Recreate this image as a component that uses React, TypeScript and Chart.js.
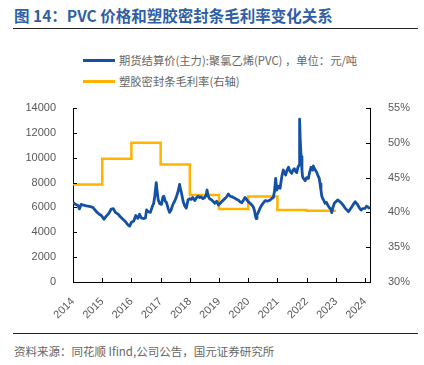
import React, { useEffect, useRef } from "react";
import { Chart, registerables } from "chart.js";

Chart.register(...registerables);

const titleText = "图 14：PVC 价格和塑胶密封条毛利率变化关系";
const sourceText = "资料来源：同花顺 Ifind,公司公告，国元证券研究所";
const pvcLabel = "期货结算价(主力):聚氯乙烯(PVC) ，单位：元/吨";
const marginLabel = "塑胶密封条毛利率(右轴)";

// PVC futures settlement price (yuan/ton), x = fractional year
const pvcDates = [
  2014.0, 2014.08, 2014.17, 2014.22, 2014.28, 2014.36, 2014.46, 2014.56, 2014.68, 2014.8, 2014.9, 2014.97,
  2015.06, 2015.14, 2015.22, 2015.31, 2015.38, 2015.45, 2015.55, 2015.62, 2015.71, 2015.8, 2015.88, 2015.94,
  2016.0, 2016.08, 2016.15, 2016.22, 2016.28, 2016.34, 2016.42, 2016.48, 2016.52, 2016.58, 2016.65, 2016.72,
  2016.76, 2016.8, 2016.85, 2016.88, 2016.92, 2016.97, 2017.03, 2017.08, 2017.11, 2017.16, 2017.2, 2017.26,
  2017.31, 2017.36, 2017.42, 2017.48, 2017.54, 2017.6, 2017.65, 2017.68, 2017.72, 2017.77, 2017.83, 2017.88,
  2017.94, 2018.0, 2018.05, 2018.1, 2018.17, 2018.22, 2018.28, 2018.34, 2018.39, 2018.45, 2018.51, 2018.56,
  2018.59, 2018.63, 2018.68, 2018.75, 2018.86, 2018.92, 2018.98, 2019.05, 2019.09, 2019.15, 2019.21, 2019.26,
  2019.32, 2019.38, 2019.43, 2019.49, 2019.55, 2019.6, 2019.66, 2019.72, 2019.78, 2019.84, 2019.89, 2019.94,
  2020.0, 2020.06, 2020.12, 2020.17, 2020.21, 2020.25, 2020.27, 2020.3, 2020.33, 2020.38, 2020.44, 2020.5,
  2020.58, 2020.66, 2020.75, 2020.8, 2020.86, 2020.9, 2020.94, 2020.98, 2021.04, 2021.09, 2021.15, 2021.2,
  2021.24, 2021.28, 2021.33, 2021.38, 2021.43, 2021.49, 2021.53, 2021.58, 2021.62, 2021.66, 2021.7, 2021.74,
  2021.76, 2021.78, 2021.81, 2021.84, 2021.86, 2021.9, 2021.95, 2022.0, 2022.06, 2022.1, 2022.15, 2022.2,
  2022.23, 2022.27, 2022.31, 2022.35, 2022.38, 2022.43, 2022.46, 2022.49, 2022.52, 2022.55, 2022.6, 2022.63,
  2022.68, 2022.72, 2022.76, 2022.8, 2022.84, 2022.86, 2022.9, 2022.95, 2023.0, 2023.06, 2023.12, 2023.2,
  2023.26, 2023.32, 2023.38, 2023.43, 2023.49, 2023.55, 2023.6, 2023.66, 2023.7, 2023.75, 2023.8, 2023.86,
  2023.92, 2024.0, 2024.05, 2024.11, 2024.17,
];
const pvcValues = [
  6400, 6250, 6150, 5880, 6250, 6180, 6120, 6080, 6010, 5660, 5450, 5350,
  5050, 5300, 5500, 5870, 5900, 5600, 5450, 5250, 5050, 4850, 4600, 4500,
  4800, 4900, 5350, 5120, 5450, 5150, 5100, 5150, 5800, 5650, 5600, 6100,
  6300, 6900, 8000, 7300, 6600, 6300, 6250, 6850, 6900, 6500, 6400, 5900,
  5600, 5800, 6250, 6500, 6850, 7300, 7850, 7500, 7100, 6500, 6100, 5950,
  6600, 6700, 6650, 6800, 6550, 6750, 6900, 6800, 6850, 6700, 6800, 7000,
  7400, 6900, 6700, 6600, 6330, 6500, 6200, 6350, 6460, 6600, 6730, 6850,
  7080, 6900, 6870, 6800, 6730, 6650, 6600, 6450, 6380, 6600, 6810, 6650,
  6460, 6350, 6200, 6050, 5790, 5300, 5100, 5400, 5520, 5800, 6110, 6300,
  6540, 6500, 6600, 6700, 6810, 7300, 8340, 7400, 7700, 7540, 8480, 9010,
  8800, 8610, 9000, 9230, 8900, 8740, 9000, 9120, 8900, 8800, 9200, 9410,
  13100, 11500, 10080, 9000, 8480, 8300, 8150, 8400, 8340, 8800, 9230, 9000,
  9330, 9100, 8960, 8800, 8610, 8340, 7900, 7400, 6900, 6730, 6500, 6330,
  6400, 6200, 6050, 5930, 5800, 5580, 6000, 6330, 6450, 6600, 6500, 6330,
  6150, 5930, 5800, 5660, 5850, 6060, 6250, 6460, 6350, 6200, 6000, 5790,
  5900, 5930, 6100, 6010, 5900,
];

// Gross margin of plastic sealing strips (%), annual, right axis
const marginYears = [2014, 2015, 2016, 2017, 2018, 2019, 2020, 2021, 2022, 2023];
const marginValues = [44.0, 47.7, 50.0, 46.9, 42.5, 40.5, 42.3, 40.35, 40.25, 40.25];

const xTickLabels = ["2014", "2015", "2016", "2017", "2018", "2019", "2020", "2021", "2022", "2023", "2024"];

const BLUE = "#1450A3";
const GOLD = "#FFB300";
const GRAY = "#595959";

const innerTicks = {
  id: "innerTicks",
  afterDraw(chart: any) {
    const ctx = chart.ctx;
    ctx.save();
    ctx.strokeStyle = "#000";
    ctx.lineWidth = 1;
    const L = 4;
    const x = chart.scales.x;
    const y = chart.scales.y;
    const y1 = chart.scales.y1;
    ctx.beginPath();
    x.ticks.forEach((t: any) => {
      const px = Math.round(x.getPixelForValue(t.value)) + 0.5;
      ctx.moveTo(px, x.top);
      ctx.lineTo(px, x.top - L);
    });
    y.ticks.forEach((t: any) => {
      const py = Math.round(y.getPixelForValue(t.value)) + 0.5;
      ctx.moveTo(y.right, py);
      ctx.lineTo(y.right + L, py);
    });
    y1.ticks.forEach((t: any) => {
      const py = Math.round(y1.getPixelForValue(t.value)) + 0.5;
      ctx.moveTo(y1.left, py);
      ctx.lineTo(y1.left - L, py);
    });
    ctx.stroke();
    ctx.restore();
  },
};

export default function App() {
  const canvasRef = useRef<HTMLCanvasElement | null>(null);

  useEffect(() => {
    if (!canvasRef.current) return;
    const tickFont = { family: "'Liberation Sans', Arial, sans-serif", size: 11 };
    const chart = new Chart(canvasRef.current, {
      type: "line",
      data: {
        datasets: [
          {
            label: pvcLabel,
            data: pvcDates.map((d, i) => ({ x: d, y: pvcValues[i] })),
            borderColor: BLUE,
            backgroundColor: BLUE,
            borderWidth: 2.8,
            borderJoinStyle: "round",
            pointRadius: 0,
            tension: 0,
            yAxisID: "y",
          },
          {
            label: marginLabel,
            data: marginYears.map((d, i) => ({ x: d, y: marginValues[i] })),
            borderColor: GOLD,
            backgroundColor: GOLD,
            borderWidth: 2.5,
            pointRadius: 0,
            stepped: "before",
            yAxisID: "y1",
          },
        ],
      },
      options: {
        responsive: false,
        animation: false,
        layout: { padding: { top: 18, left: 0, right: 0, bottom: 0 } },
        plugins: { legend: { display: false }, tooltip: { enabled: false } },
        scales: {
          x: {
            type: "linear",
            min: 2014,
            max: 2024.17,
            grid: { display: false },
            border: { display: true, color: "#000", width: 1 },
            ticks: {
              stepSize: 1,
              includeBounds: false,
              minRotation: 45,
              maxRotation: 45,
              padding: 5,
              color: GRAY,
              font: tickFont,
              callback: (v: any) => {
                const idx = Math.round(Number(v)) - 2014;
                return xTickLabels[idx] ?? "";
              },
            },
            afterFit: (s: any) => {
              s.height = 40;
            },
          },
          y: {
            position: "left",
            min: 0,
            max: 14000,
            grid: { display: false },
            border: { display: true, color: "#000", width: 1 },
            ticks: { stepSize: 2000, padding: 9, color: GRAY, font: tickFont, callback: (v: any) => String(v) },
            afterFit: (s: any) => {
              s.width = 73;
            },
          },
          y1: {
            position: "right",
            min: 30,
            max: 55,
            grid: { display: false },
            border: { display: true, color: "#000", width: 1 },
            ticks: { stepSize: 5, padding: 10, color: GRAY, font: tickFont, callback: (v: any) => v + "%" },
            afterFit: (s: any) => {
              s.width = 54;
            },
          },
        },
      },
      plugins: [innerTicks],
    });
    return () => chart.destroy();
  }, []);

  const cjk = "'Noto Sans CJK SC', 'Noto Sans', sans-serif";

  return (
    <div
      style={{
        position: "absolute",
        left: 0,
        top: 0,
        width: 424,
        height: 365,
        background: "#fff",
        overflow: "hidden",
        fontFamily: cjk,
      }}
    >
      <div
        style={{
          position: "absolute",
          left: 14,
          top: 4,
          fontSize: 15.5,
          fontWeight: 700,
          color: "#2F5FA6",
          whiteSpace: "nowrap",
          lineHeight: "22px",
        }}
      >
        {titleText}
      </div>
      <div style={{ position: "absolute", left: 13, top: 28, width: 405, height: 1, background: "#222" }} />

      <div style={{ position: "absolute", left: 83, top: 59, width: 32, height: 3, background: BLUE }} />
      <div
        style={{
          position: "absolute",
          left: 119,
          top: 51,
          fontSize: 11.3,
          color: "#666",
          whiteSpace: "nowrap",
          lineHeight: "18px",
        }}
      >
        {pvcLabel}
      </div>
      <div style={{ position: "absolute", left: 83, top: 80, width: 32, height: 3, background: GOLD }} />
      <div
        style={{
          position: "absolute",
          left: 119,
          top: 72,
          fontSize: 11.3,
          color: "#666",
          whiteSpace: "nowrap",
          lineHeight: "18px",
        }}
      >
        {marginLabel}
      </div>

      <canvas
        ref={canvasRef}
        width={424}
        height={232}
        style={{ position: "absolute", left: 0, top: 90, width: 424, height: 232 }}
      />

      <div style={{ position: "absolute", left: 13, top: 333, width: 405, height: 1, background: "#222" }} />
      <div
        style={{
          position: "absolute",
          left: 14,
          top: 342,
          fontSize: 11.5,
          color: "#666",
          whiteSpace: "nowrap",
          lineHeight: "18px",
        }}
      >
        {sourceText}
      </div>
    </div>
  );
}
